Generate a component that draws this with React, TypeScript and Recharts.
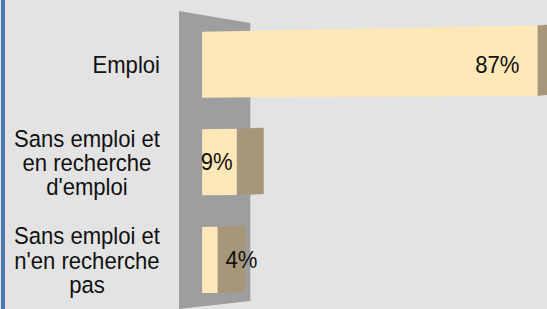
import { BarChart, Bar, XAxis, YAxis, ReferenceArea, LabelList } from "recharts";

const categories = [
  "Emploi",
  "Sans emploi et\nen recherche\nd'emploi",
  "Sans emploi et\nn'en recherche\npas",
];
const shares = [87, 9, 4];

const data = categories.map((name, i) => ({ name, value: shares[i] }));

const W = 547;
const H = 309;
const FONT = "'Liberation Sans', Arial, sans-serif";
const FONT_SIZE = 23.5;
const SQUEEZE = 0.94; // the original text is a bit narrower than Arial
const LINE = 24.5;
const FACE = "#fee8b7";
const SIDE = "#a6977a";
const WALL = "#9e9e9e";
const BG = "#e3e3e3";
// fake perspective for the side faces of the bars
const VP_X = 745;
const DEPTH = 0.053;

let ctx: CanvasRenderingContext2D | null = null;
function textWidth(s: string) {
  if (!ctx) ctx = document.createElement("canvas").getContext("2d");
  if (!ctx) return s.length * 10;
  ctx.font = `${FONT_SIZE}px ${FONT}`;
  return ctx.measureText(s).width * SQUEEZE;
}

function Wall(props: any) {
  const { x, y, width, height } = props;
  const pts = [
    [x, y - 5],
    [x + width, y + 7],
    [x + width, y + height - 8],
    [x, y + height],
  ];
  return <polygon points={pts.map((p) => p.join(",")).join(" ")} fill={WALL} />;
}

function Bar3D(props: any) {
  const { x, y, width, height } = props;
  const right = x + width;
  const side = DEPTH * (VP_X - right);
  const rise = width * 0.018;
  const front = [
    [x, y],
    [right, y - rise],
    [right, y + height - rise * 0.3],
    [x, y + height],
  ];
  const sideFace = [
    [right, y - rise],
    [right + side, y - rise - 1],
    [right + side, y + height - rise * 0.3 - 1],
    [right, y + height - rise * 0.3],
  ];
  return (
    <g>
      <polygon points={sideFace.map((p) => p.join(",")).join(" ")} fill={SIDE} />
      <polygon points={front.map((p) => p.join(",")).join(" ")} fill={FACE} />
    </g>
  );
}

function CatTick(props: any) {
  const { x, y, payload } = props;
  const lines = String(payload.value).split("\n");
  const block = Math.max(...lines.map(textWidth));
  const right = x - 11;
  const cx = right - block / 2;
  return (
    <g transform={`translate(${cx},${y}) scale(${SQUEEZE},1)`}>
      <text textAnchor="middle" fontFamily={FONT} fontSize={FONT_SIZE} fill="#111">
        {lines.map((l, i) => (
          <tspan key={i} x={0} y={(i - (lines.length - 1) / 2) * LINE + 8.5}>
            {l}
          </tspan>
        ))}
      </text>
    </g>
  );
}

function ValueLabel(props: any) {
  const { x, y, width, height, value } = props;
  const right = x + width;
  // short bars: label drifts onto the side face, like the 3D original
  const end = Math.max(right - 18, x + 75 - 1.28 * width);
  return (
    <g transform={`translate(${end},${y + height / 2 + 8}) scale(${SQUEEZE},1)`}>
      <text textAnchor="end" fontFamily={FONT} fontSize={FONT_SIZE} fill="#111">
        {value}%
      </text>
    </g>
  );
}

export default function App() {
  return (
    <div
      style={{
        position: "fixed",
        left: 0,
        top: 0,
        width: W,
        height: H,
        background: BG,
        overflow: "hidden",
      }}
    >
      <div
        style={{
          position: "absolute",
          left: 1,
          top: 0,
          width: 4,
          height: H,
          background: "#4a78ac",
        }}
      />
      <BarChart
        width={W}
        height={H}
        data={data}
        layout="vertical"
        margin={{ top: 16, right: 0, bottom: 0, left: 0 }}
        barCategoryGap="16%"
      >
        <XAxis type="number" domain={[-6, 89.5]} hide />
        <YAxis
          type="category"
          dataKey="name"
          width={179}
          axisLine={false}
          tickLine={false}
          interval={0}
          tick={<CatTick />}
        />
        <ReferenceArea x1={-6} x2={12.5} ifOverflow="visible" shape={<Wall />} />
        <Bar dataKey="value" shape={<Bar3D />} isAnimationActive={false}>
          <LabelList dataKey="value" content={<ValueLabel />} />
        </Bar>
      </BarChart>
    </div>
  );
}
